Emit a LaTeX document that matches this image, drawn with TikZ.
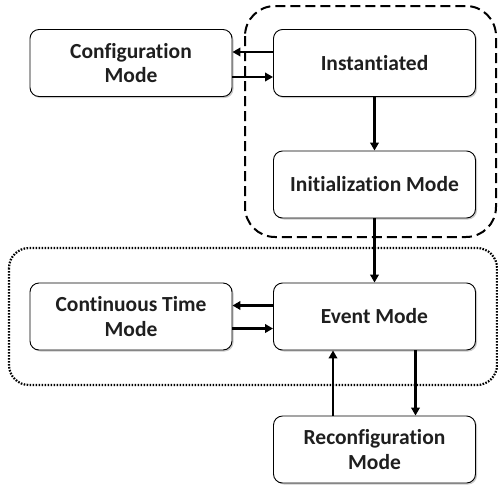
\documentclass[tikz,border=0pt]{standalone}
\usepackage{fontspec}
\setmainfont{Carlito}[Ligatures=NoCommon]
\usetikzlibrary{arrows.meta,shadows}
\begin{document}
\begin{tikzpicture}[x=1pt,y=-1pt,
  box/.style={draw=black,line width=0.9pt,fill=white,rounded corners=9pt,
    minimum width=202pt,minimum height=67pt,align=center,
    font=\fontsize{21.5}{24.5}\selectfont\bfseries,text=black!88,
    drop shadow={shadow xshift=1.5pt,shadow yshift=-1.5pt,opacity=0.35,fill=black!60}},
  arr/.style={line width=2.5pt,-{Triangle[length=8pt,width=8.5pt]}},
  grp1/.style={line width=2pt,dash pattern=on 10pt off 5pt,rounded corners=30pt},
  grp2/.style={line width=2.2pt,dash pattern=on 1.6pt off 1.4pt,rounded corners=20pt}]
\useasboundingbox (0,0) rectangle (498,488);
\draw[grp1] (245,6) rectangle (496,237);
\draw[grp2] (9,248) rectangle (497,385);
\node[box] (conf) at (131,63) {Configuration\\Mode};
\node[box] (inst) at (374.5,63) {Instantiated};
\node[box] (init) at (374.5,184.5) {Initialization Mode};
\node[box] (ct) at (131,316.5) {Continuous Time\\Mode};
\node[box] (ev) at (374.5,316.5) {Event Mode};
\node[box] (rec) at (374.5,449.5) {Reconfiguration\\Mode};
\draw[arr] ([yshift=11pt]inst.west) -- ([yshift=11pt]conf.east);
\draw[arr] ([yshift=-14pt]conf.east) -- ([yshift=-14pt]inst.west);
\draw[arr] (inst.south) -- (init.north);
\draw[arr] (init.south) -- (ev.north);
\draw[arr] ([yshift=11pt]ev.west) -- ([yshift=11pt]ct.east);
\draw[arr] ([yshift=-12pt]ct.east) -- ([yshift=-12pt]ev.west);
\draw[arr] ([xshift=41pt]ev.south) -- ([xshift=41pt]rec.north);
\draw[arr] ([xshift=-41.5pt]rec.north) -- ([xshift=-41.5pt]ev.south);
\end{tikzpicture}
\end{document}
